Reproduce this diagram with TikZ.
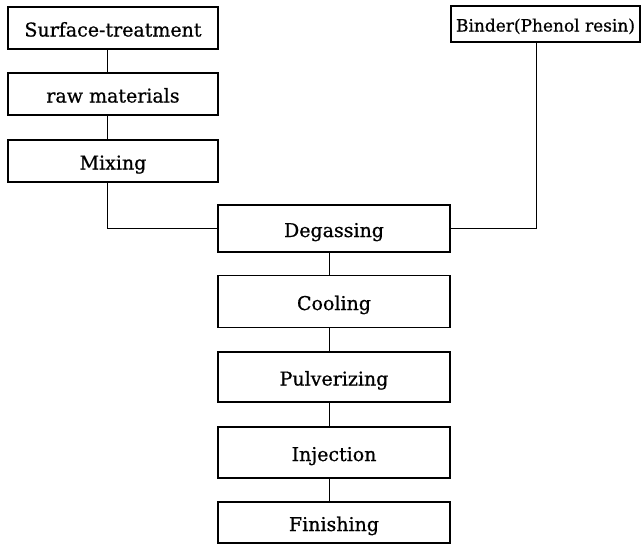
\documentclass[tikz,border=0pt]{standalone}
\usepackage{fontspec}
\setmainfont[FakeBold=0.8]{DejaVu Serif}
\begin{document}
\begin{tikzpicture}[x=1pt,y=-1pt,
  box/.style={draw, line width=1.6pt, rectangle, inner sep=0pt,
    font=\fontsize{19}{22}\selectfont, text height=17pt, text depth=0pt},
  lbox/.style={box, minimum width=210pt, minimum height=42pt},
  rbox/.style={box, minimum width=232pt},
  conn/.style={line width=0.9pt}]
\useasboundingbox (0,0) rectangle (644,549);
\node[lbox] (surf) at (113,28) {Surface-treatment};
\node[lbox] (raw) at (113,94) {raw materials};
\node[lbox] (mix) at (113,161) {Mixing};
\node[box, minimum width=189pt, minimum height=36pt, font=\fontsize{17}{20}\selectfont, text height=15pt] (bind) at (545.5,24) {Binder(Phenol resin)};
\node[rbox, minimum height=47pt] (deg) at (334,228.5) {Degassing};
\node[rbox, minimum height=52pt] (cool) at (334,301.5) {Cooling};
\node[rbox, minimum height=50pt] (pulv) at (334,377) {Pulverizing};
\node[rbox, minimum height=51pt] (inj) at (334,452.5) {Injection};
\node[rbox, minimum height=41pt] (fin) at (334,522.5) {Finishing};
\draw[conn] ([xshift=-6pt]surf.south) -- ([xshift=-6pt]raw.north);
\draw[conn] ([xshift=-6pt]raw.south) -- ([xshift=-6pt]mix.north);
\draw[conn] ([xshift=-6pt]mix.south) |- (deg.west);
\draw[conn] ([xshift=-9.5pt]bind.south) |- (deg.east);
\draw[conn] ([xshift=-5pt]deg.south) -- ([xshift=-5pt]cool.north);
\draw[conn] ([xshift=-5pt]cool.south) -- ([xshift=-5pt]pulv.north);
\draw[conn] ([xshift=-5pt]pulv.south) -- ([xshift=-5pt]inj.north);
\draw[conn] ([xshift=-5pt]inj.south) -- ([xshift=-5pt]fin.north);
\end{tikzpicture}
\end{document}
